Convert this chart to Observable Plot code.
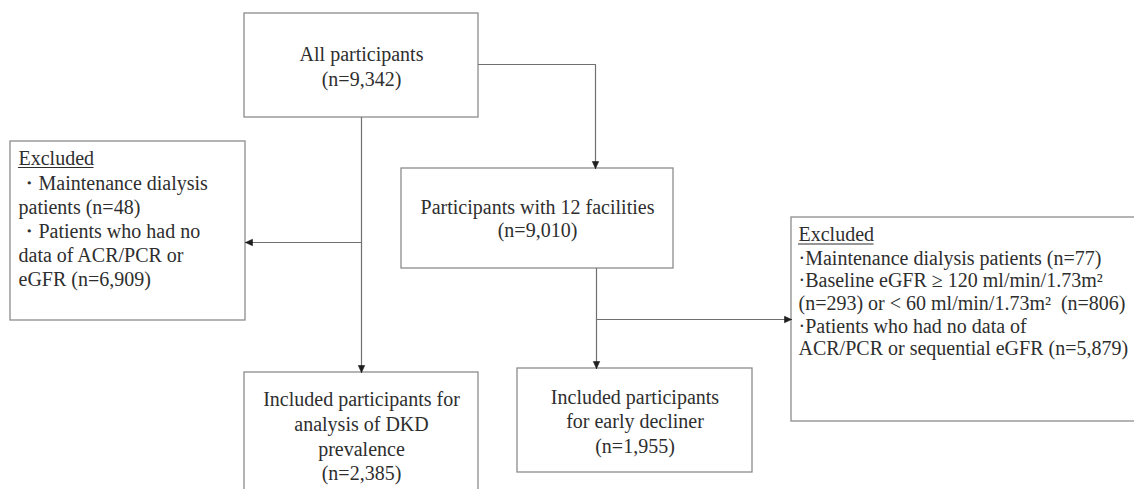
<!DOCTYPE html>
<html><head><meta charset="utf-8">
<script src="https://cdn.jsdelivr.net/npm/d3@7"></script>
<script src="https://cdn.jsdelivr.net/npm/@observablehq/plot@0.6"></script>
<style>
html,body{margin:0;padding:0;background:#fff;}
#chart{width:1134px;height:489px;overflow:hidden;}
#chart svg{overflow:hidden;}
</style></head><body><div id="chart"></div>
<script>
// ---------- content ----------
const stepIds = ["all", "facilities", "dkd", "early"];
const stepLabels = ["All participants", "Participants with 12 facilities", "Included participants for\nanalysis of DKD\nprevalence", "Included participants\nfor early decliner"];
const stepCounts = [9342, 9010, 2385, 1955];
const excludedHeading = "Excluded";
const excludedLeftLines = ["・Maintenance dialysis", "patients (n=48)", "・Patients who had no", "data of ACR/PCR or", "eGFR (n=6,909)"];
const excludedRightLines = ["·Maintenance dialysis patients (n=77)", "·Baseline eGFR ≥ 120 ml/min/1.73m²", "(n=293) or < 60 ml/min/1.73m²\u00a0 (n=806)", "·Patients who had no data of", "ACR/PCR or sequential eGFR (n=5,879)"];

// ---------- layout (page pixels) ----------
const W = 1134, H = 489, FS = 20;
const layout = {
  all:        {x1: 244, x2: 478,  y1: 13,  y2: 117, lh: 1.25},
  facilities: {x1: 401, x2: 673,  y1: 168, y2: 268, lh: 1.15},
  dkd:        {x1: 244, x2: 478,  y1: 372, y2: 505, lh: 1.233, ty: 435},
  early:      {x1: 517, x2: 752,  y1: 368, y2: 472, lh: 1.225},
  exclLeft:   {x1: 10,  x2: 245,  y1: 141, y2: 320, lh: 1.2,  tx: 18,  ty: 158},
  exclRight:  {x1: 791, x2: 1160, y1: 217, y2: 421, lh: 1.13, tx: 798, ty: 234.5}
};
const joints = {leftBranchY: 242, topExitY: 64, topDropX: 595, facilitiesExitX: 596, rightBranchY: 319};

const cx = b => (b.x1 + b.x2) / 2;
const cy = b => (b.y1 + b.y2) / 2;
const L = layout, J = joints;

const connectors = [
  {id: "toDkd",      pts: [[cx(L.all), L.all.y2], [cx(L.all), L.dkd.y1]]},
  {id: "toExclLeft", pts: [[cx(L.all), J.leftBranchY], [L.exclLeft.x2, J.leftBranchY]]},
  {id: "toFacil",    pts: [[L.all.x2, J.topExitY], [J.topDropX, J.topExitY], [J.topDropX, L.facilities.y1]]},
  {id: "toEarly",    pts: [[J.facilitiesExitX, L.facilities.y2], [J.facilitiesExitX, L.early.y1]]},
  {id: "toExclRight",pts: [[J.facilitiesExitX, J.rightBranchY], [L.exclRight.x1, J.rightBranchY]]}
];
const linePts = connectors.flatMap(c => c.pts.map(([x, y]) => ({id: c.id, x, y})));
// arrowheads derived from the last segment of each connector
const headLen = 7, headHalf = 3.2;
const headPts = connectors.flatMap(c => {
  const [px, py] = c.pts[c.pts.length - 2], [tx, ty] = c.pts[c.pts.length - 1];
  const len = Math.hypot(tx - px, ty - py), ux = (tx - px) / len, uy = (ty - py) / len;
  const bx = tx - ux * headLen, by = ty - uy * headLen;
  return [[tx, ty], [bx - uy * headHalf, by + ux * headHalf], [bx + uy * headHalf, by - ux * headHalf], [tx, ty]]
    .map(([x, y]) => ({id: c.id, x, y}));
});

const boxes = Object.entries(layout).map(([id, b]) => ({id, ...b}));
const fmt = d3.format(",");
const stepTexts = stepIds.map((id, i) => {
  const b = layout[id];
  return {id, x: cx(b), y: b.ty ?? cy(b), lh: b.lh, text: `${stepLabels[i]}\n(n=${fmt(stepCounts[i])})`};
});

const font = "Liberation Serif";
const textColor = "#2e2e2e";

// measure heading width for its underline
const ctx = document.createElement("canvas").getContext("2d");
ctx.font = `${FS}px "${font}", serif`;
const headingWidth = ctx.measureText(excludedHeading).width || 3.78 * FS;

// excluded boxes: heading on first line (centre at ty), body lines below it
const exclGroups = [
  {id: "exclLeft", lines: excludedLeftLines},
  {id: "exclRight", lines: excludedRightLines}
];
const exclHeads = exclGroups.map(d => ({id: d.id, x: layout[d.id].tx, y: layout[d.id].ty, text: excludedHeading, w: headingWidth}));
const exclBodies = exclGroups.map(d => {
  const b = layout[d.id], step = b.lh * FS;
  return {id: d.id, x: b.tx, y: b.ty + step * (1 + (d.lines.length - 1) / 2), lh: b.lh, text: d.lines.join("\n")};
});

const textOpts = {x: "x", y: "y", text: "text", fontSize: FS, fontFamily: font, fill: textColor};

const plot = Plot.plot({
  width: W, height: H, margin: 0,
  x: {domain: [0, W], range: [0, W], axis: null},
  y: {domain: [0, H], range: [0, H], axis: null},
  style: {background: "#fff", fontFamily: font},
  marks: [
    Plot.rect(boxes, {x1: "x1", x2: "x2", y1: "y1", y2: "y2", fill: "#fff", stroke: "#8c8c8c", strokeWidth: 1.3}),
    Plot.line(linePts, {x: "x", y: "y", z: "id", stroke: "#707070", strokeWidth: 1.2}),
    Plot.line(headPts, {x: "x", y: "y", z: "id", fill: "#1e1e1e", stroke: "#1e1e1e", strokeWidth: 0.6}),
    ...stepTexts.map(t => Plot.text([t], {...textOpts, lineHeight: t.lh, textAnchor: "middle"})),
    Plot.text(exclHeads, {...textOpts, textAnchor: "start"}),
    Plot.ruleY(exclHeads, {y: d => d.y + 0.45 * FS, x1: "x", x2: d => d.x + d.w, stroke: textColor, strokeWidth: 1}),
    ...exclBodies.map(t => Plot.text([t], {...textOpts, lineHeight: t.lh, textAnchor: "start"}))
  ]
});
document.getElementById("chart").appendChild(plot);
</script>
</body></html>
